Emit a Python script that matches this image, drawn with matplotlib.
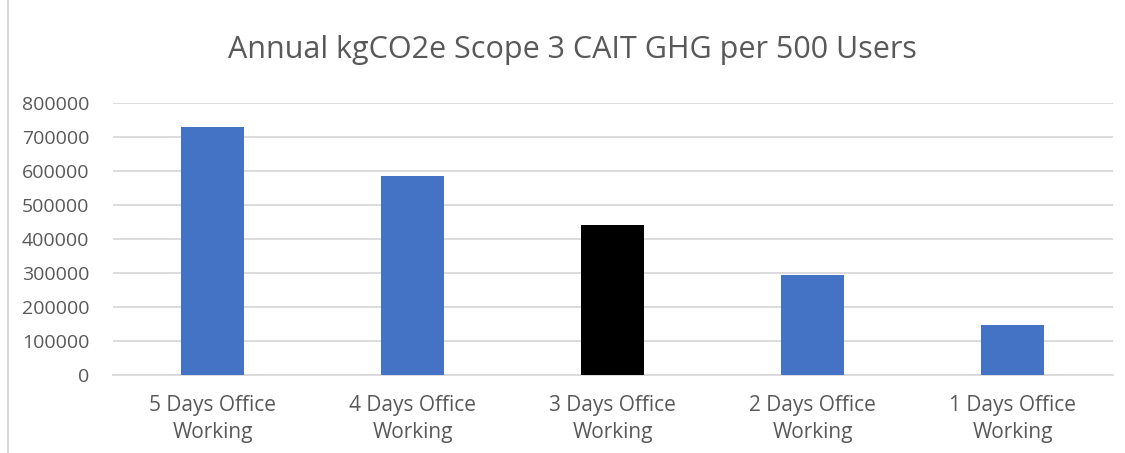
import matplotlib.pyplot as plt
import matplotlib as mpl
import numpy as np

mpl.rcParams['font.family'] = ['Open Sans', 'DejaVu Sans']

categories = ['5 Days Office\nWorking', '4 Days Office\nWorking', '3 Days Office\nWorking',
              '2 Days Office\nWorking', '1 Days Office\nWorking']
values = [731000, 585000, 440000, 293000, 147000]
bar_colors = ['#4472C4', '#4472C4', '#000000', '#4472C4', '#4472C4']
yticks = [0, 100000, 200000, 300000, 400000, 500000, 600000, 700000, 800000]

fig = plt.figure(figsize=(11.25, 4.53), dpi=100)
ax = fig.add_axes([0.1004, 0.172, 0.8886, 0.6005])

x = np.arange(len(categories))
ax.bar(x, values, width=0.315, color=bar_colors, zorder=3)

ax.set_xlim(-0.5, len(categories) - 0.5)
ax.set_ylim(0, 800000)
ax.set_yticks(yticks)
ax.set_yticklabels([str(v) for v in yticks])
ax.set_xticks(x)
ax.set_xticklabels(categories, linespacing=1.4)
ax.grid(axis='y', color='#D9D9D9', linewidth=1.3, zorder=0)
for s in ['top', 'right', 'left']:
    ax.spines[s].set_visible(False)
ax.spines['bottom'].set_color('#D9D9D9')
ax.spines['bottom'].set_linewidth(1.3)
ax.tick_params(axis='both', length=0, colors='#595959')
ax.tick_params(axis='y', labelsize=14, pad=17)
ax.tick_params(axis='x', labelsize=15, pad=14)

fig.text(0.509, 0.89, 'Annual kgCO2e Scope 3 CAIT GHG per 500 Users', ha='center', va='center',
         fontsize=22, color='#595959')

# chart frame
fig.add_artist(plt.Line2D([0.0075, 0.0075], [0, 1], color='#D9D9D9', lw=1.5, transform=fig.transFigure))

fig.savefig('out.png', dpi=100)
